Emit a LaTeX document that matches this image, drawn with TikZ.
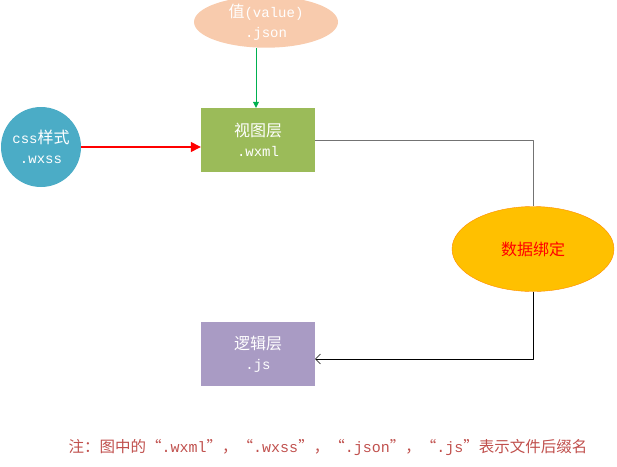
\documentclass[tikz,border=0pt]{standalone}
\usepackage{fontspec}
\newfontfamily\cjk{Noto Sans CJK SC}
\newfontfamily\mn{Liberation Mono}
\usetikzlibrary{shapes.geometric,arrows.meta}
\definecolor{peach}{HTML}{F8CBAD}
\definecolor{viewgreen}{HTML}{9BBB59}
\definecolor{cssblue}{HTML}{4BACC6}
\definecolor{logicpurple}{HTML}{A99BC4}
\definecolor{bindgold}{HTML}{FFC000}
\definecolor{arrowgreen}{HTML}{00B050}
\definecolor{notered}{HTML}{C0504D}
\newcommand\asc[1]{{\mn\fontsize{14}{20}\selectfont#1}}
\newcommand\ascn[1]{{\mn\fontsize{15}{18}\selectfont#1}}
\tikzset{
	layer/.style={rectangle,minimum width=114pt,minimum height=64pt,text=white,align=center,inner sep=0pt},
	oval/.style={ellipse,inner sep=0pt,align=center},
}
\begin{document}
\begin{tikzpicture}[x=1pt,y=-1pt,line join=round,font=\cjk\fontsize{16}{20}\selectfont]
	\useasboundingbox (0,0) rectangle (617,466);
	\node[oval,fill=peach,text=white,minimum width=144pt,minimum height=48pt] (json) at (266,22) {值\asc{(value)}\\\asc{.json}};
	\node[layer,fill=viewgreen] (view) at (258,140) {视图层\\\asc{.wxml}};
	\node[circle,fill=cssblue,text=white,minimum size=80pt,inner sep=0pt,align=center] (css) at (41,147) {\asc{css}样式\\\asc{.wxss}};
	\node[oval,fill=bindgold,draw=orange!80!bindgold,text=red,minimum width=162pt,minimum height=85pt] (bind) at (533,249) {数据绑定};
	\node[layer,fill=logicpurple] (logic) at (258,354) {逻辑层\\\asc{.js}};
	\draw[arrowgreen,-{Triangle[length=6pt,width=6pt]}] ([xshift=-2pt]json.south-|view.north) -- ([xshift=-2pt]view.north);
	\draw[red,line width=1.3pt,-{Triangle[length=10pt,width=10pt]}] (css.east) -- (view.west|-css.east);
	\draw[gray!90!black,thick] (view.east) -| (bind.north);
	\draw[-{Straight Barb[length=5pt,width=10pt]}] (bind.south) |- ([yshift=-5pt]logic.east);
	\node[text=notered,font=\cjk\fontsize{15.5}{18}\selectfont] (note) at (328,447) {注：图中的“\ascn{.wxml}”，“\ascn{.wxss}”，“\ascn{.json}”，“\ascn{.js}”表示文件后缀名};
\end{tikzpicture}
\end{document}
